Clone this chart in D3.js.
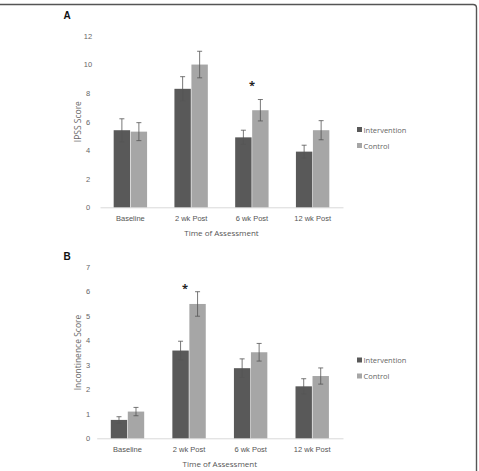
<!DOCTYPE html>
<html>
<head>
<meta charset="utf-8">
<script src="https://cdn.jsdelivr.net/npm/d3@7"></script>
<style>
  body { margin: 0; background: #fff; }
  svg { display: block; font-family: "Open Sans", "DejaVu Sans", sans-serif; }
</style>
</head>
<body>
<svg id="chart" width="479" height="471"></svg>
<script>
"use strict";

const categories = ["Baseline", "2 wk Post", "6 wk Post", "12 wk Post"];
const seriesNames = ["Intervention", "Control"];

// Panel A: IPSS score
const ipssIntervention = [5.4, 8.3, 4.9, 3.9];
const ipssControl = [5.3, 10.0, 6.8, 5.4];
const ipssInterventionErr = [0.8, 0.85, 0.5, 0.45];
const ipssControlErr = [0.63, 0.93, 0.75, 0.67];
const ipssTicks = [0, 2, 4, 6, 8, 10, 12];

// Panel B: incontinence score
const incIntervention = [0.75, 3.58, 2.86, 2.12];
const incControl = [1.09, 5.48, 3.51, 2.54];
const incInterventionErr = [0.13, 0.38, 0.38, 0.31];
const incControlErr = [0.17, 0.5, 0.36, 0.33];
const incTicks = [0, 1, 2, 3, 4, 5, 6, 7];

const colors = ["#595959", "#a6a6a6"];
const svg = d3.select("#chart");

// frame line (top + right, rounded corner)
svg.append("path")
    .attr("d", "M0,4.5 H473 Q476.5,4.5 476.5,8 V471")
    .attr("fill", "none")
    .attr("stroke", "#555")
    .attr("stroke-width", 1.4);

function drawPanel(opt) {
    const g = svg.append("g");

    const x = d3.scaleBand()
        .domain(categories)
        .range([opt.x0, opt.x1]);

    const y = d3.scaleLinear()
        .domain([0, d3.max(opt.ticks)])
        .range([opt.yBottom, opt.yTop]);

    const barW = 17;

    // panel letter
    g.append("text")
        .attr("x", 67).attr("y", opt.letterY)
        .attr("text-anchor", "middle")
        .attr("dominant-baseline", "central")
        .style("font-size", "10px").style("font-weight", "bold")
        .style("font-family", "'Liberation Sans', Arial, sans-serif")
        .attr("fill", "#111")
        .text(opt.letter);

    // y axis labels (no axis line)
    const yAxis = d3.axisLeft(y).tickValues(opt.ticks).tickFormat(d3.format("d"))
        .tickSize(0).tickPadding(0);
    const ya = g.append("g")
        .attr("transform", `translate(${opt.x0 - 8},0)`)
        .call(yAxis);
    ya.select(".domain").remove();
    ya.selectAll("text")
        .attr("fill", "#666")
        .style("font-size", "7.5px")
        .attr("text-anchor", "middle")
        .attr("x", opt.tickX - (opt.x0 - 8));

    // x axis
    const xAxis = d3.axisBottom(x).tickSize(0).tickPadding(8);
    const xa = g.append("g")
        .attr("transform", `translate(0,${opt.yBottom})`)
        .call(xAxis);
    xa.select(".domain").attr("stroke", "#d9d9d9");
    xa.selectAll("text")
        .attr("fill", "#555")
        .style("font-size", "7.5px");

    // bars
    const series = [opt.a, opt.b];
    const errs = [opt.aErr, opt.bErr];
    series.forEach((vals, s) => {
        g.append("g").selectAll("rect")
            .data(vals)
            .join("rect")
            .attr("x", (d, i) => x(categories[i]) + x.bandwidth() / 2 - barW + s * barW + 0.3)
            .attr("width", barW - 0.6)
            .attr("y", d => y(d))
            .attr("height", d => y(0) - y(d))
            .attr("fill", colors[s]);
    });

    // error bars
    series.forEach((vals, s) => {
        const eg = g.append("g").attr("stroke", "#555").attr("stroke-width", 0.8);
        vals.forEach((v, i) => {
            const cx = x(categories[i]) + x.bandwidth() / 2 - barW / 2 + s * barW;
            const hi = y(v + errs[s][i]);
            const lo = y(v - errs[s][i]);
            eg.append("line").attr("x1", cx).attr("x2", cx).attr("y1", hi).attr("y2", lo);
            eg.append("line").attr("x1", cx - 2.5).attr("x2", cx + 2.5).attr("y1", hi).attr("y2", hi);
            eg.append("line").attr("x1", cx - 2.5).attr("x2", cx + 2.5).attr("y1", lo).attr("y2", lo);
        });
    });

    // significance star
    const si = opt.star.index;
    g.append("text")
        .attr("x", x(categories[si]) + x.bandwidth() / 2 + opt.star.dx)
        .attr("y", y(opt.star.value))
        .attr("text-anchor", "middle")
        .attr("dominant-baseline", "central")
        .style("font-size", "11px").style("font-weight", "bold")
        .attr("fill", "#222")
        .text("*");

    // axis titles
    g.append("text")
        .attr("transform", `translate(77,${(opt.yTop + opt.yBottom) / 2}) rotate(-90)`)
        .attr("text-anchor", "middle")
        .attr("dominant-baseline", "central")
        .attr("fill", "#666")
        .style("font-size", "8.5px")
        .text(opt.yTitle);

    g.append("text")
        .attr("x", (opt.x0 + opt.x1) / 2)
        .attr("y", opt.yBottom + 25)
        .attr("text-anchor", "middle")
        .attr("dominant-baseline", "central")
        .attr("fill", "#555")
        .style("font-size", "8px")
        .text("Time of Assessment");

    // legend
    const lg = g.append("g").attr("transform", `translate(357,${opt.legendY})`);
    seriesNames.forEach((name, s) => {
        const row = lg.append("g").attr("transform", `translate(0,${s * 16})`);
        row.append("rect").attr("x", 0).attr("y", -2.5).attr("width", 5).attr("height", 5).attr("fill", colors[s]);
        row.append("text")
            .attr("x", 6.5).attr("y", 0)
            .attr("dominant-baseline", "central")
            .attr("fill", "#666")
            .style("font-size", "7.5px")
            .text(name);
    });
}

drawPanel({
    letter: "A", letterY: 15.5,
    x0: 100, x1: 343, yTop: 36, yBottom: 207.3, tickX: 88,
    ticks: ipssTicks,
    a: ipssIntervention, b: ipssControl,
    aErr: ipssInterventionErr, bErr: ipssControlErr,
    star: { index: 2, value: 8.6, dx: 0 },
    yTitle: "IPSS Score",
    legendY: 129.5
});

drawPanel({
    letter: "B", letterY: 256.5,
    x0: 96.7, x1: 343, yTop: 266.7, yBottom: 438.3, tickX: 88,
    ticks: incTicks,
    a: incIntervention, b: incControl,
    aErr: incInterventionErr, bErr: incControlErr,
    star: { index: 1, value: 6.15, dx: -4 },
    yTitle: "Incontinence Score",
    legendY: 360
});
</script>
</body>
</html>
